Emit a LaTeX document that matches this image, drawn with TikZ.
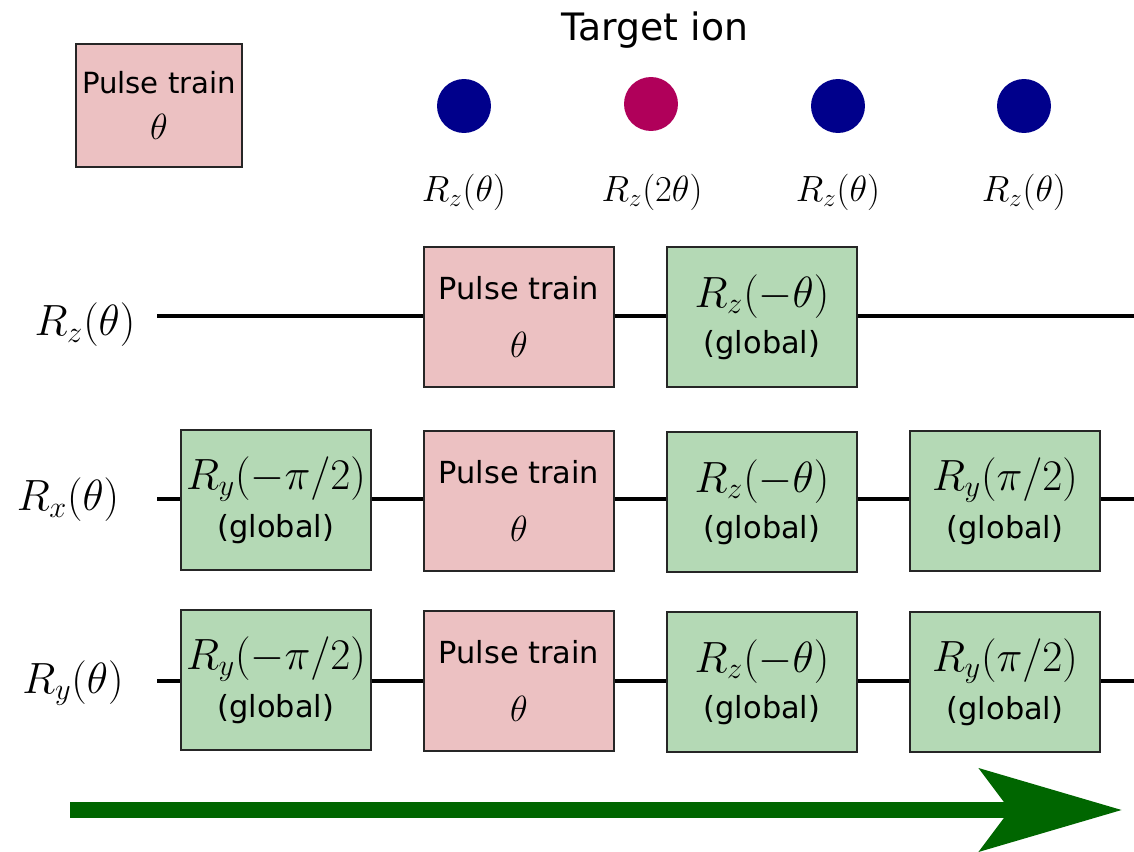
\documentclass[tikz,border=0pt]{standalone}
\usepackage{fontspec}
\setsansfont{DejaVu Sans}
\usepackage{tikz}
\usetikzlibrary{positioning, arrows.meta, calc}
\tikzset{every picture/.append style={thick}}
\definecolor{pulsepink}{HTML}{ECC1C2}
\definecolor{globalgreen}{HTML}{B4D9B5}
\definecolor{iondark}{HTML}{00008B}
\definecolor{iontarget}{HTML}{B0005A}
\definecolor{timegreen}{HTML}{006600}
\tikzset{
  gatebox/.style={draw=black!85, line width=1.1pt, minimum width=3.8cm, minimum height=2.8cm, inner sep=0pt, align=center, font=\sffamily\fontsize{17.3}{20}\selectfont},
  pulsebox/.style={gatebox, fill=pulsepink},
  globalbox/.style={gatebox, fill=globalgreen},
  wire/.style={line width=2.8pt},
  ion/.style={circle, minimum size=1.08cm, inner sep=0pt},
  rowlabel/.style={font=\fontsize{23}{23}\selectfont},
  ionlabel/.style={font=\fontsize{20}{20}\selectfont},
}
\newcommand{\pulsetext}{Pulse train\\[13pt]{\fontsize{20}{20}\selectfont$\theta$}}
\newcommand{\globaltext}[1]{{\fontsize{23}{23}\selectfont$#1$}\\[6pt](global)}

\begin{document}
\begin{tikzpicture}[x=0.02cm, y=-0.02cm]
    \useasboundingbox (0,0) rectangle (1134,852);

    % Legend
    \node[draw=black!85, line width=1.1pt, fill=pulsepink, minimum width=3.32cm, minimum height=2.46cm, inner sep=0pt, align=center, font=\sffamily\fontsize{16.6}{20}\selectfont] (legend) at (159,105.5) {Pulse train\\[6pt]{\fontsize{20}{20}\selectfont$\theta$}};

    % Ions
    \node[font=\sffamily\fontsize{21.5}{24}\selectfont] (target) at (655,30) {Target ion};
    \node[ion, fill=iondark] (ion1) at (464,106) {};
    \node[ion, fill=iontarget] (ion2) at (651,104) {};
    \node[ion, fill=iondark] (ion3) at (838,106) {};
    \node[ion, fill=iondark] (ion4) at (1024,106) {};
    \node[ionlabel] (lab1) at (464,192) {$R_z(\theta)$};
    \node[ionlabel] (lab2) at (652,192) {$R_z(2\theta)$};
    \node[ionlabel] (lab3) at (838,192) {$R_z(\theta)$};
    \node[ionlabel] (lab4) at (1024,192) {$R_z(\theta)$};

    % Row Rz
    \node[rowlabel] (rz) at (85,325) {$R_z(\theta)$};
    \coordinate (zin) at (157,316);
    \coordinate (zout) at (1134,316);
    \node[pulsebox] (zpulse) at (519,317) {\pulsetext};
    \node[globalbox] (zglob) at (762,317) {\globaltext{R_z(-\theta)}};
    \draw[wire] (zin) -- (zin -| zpulse.west);
    \draw[wire] (zpulse.east |- zin) -- (zin -| zglob.west);
    \draw[wire] (zglob.east |- zin) -- (zout);

    % Row Rx
    \node[rowlabel] (rx) at (68,500) {$R_x(\theta)$};
    \coordinate (xin) at (157,499);
    \coordinate (xout) at (1134,499);
    \node[globalbox] (xpre) at (276,500) {\globaltext{R_y(-\pi/2)}};
    \node[pulsebox] (xpulse) at (519,501) {\pulsetext};
    \node[globalbox] (xglob) at (762,502) {\globaltext{R_z(-\theta)}};
    \node[globalbox] (xpost) at (1005,501) {\globaltext{R_y(\pi/2)}};
    \draw[wire] (xin) -- (xin -| xpre.west);
    \draw[wire] (xpre.east |- xin) -- (xin -| xpulse.west);
    \draw[wire] (xpulse.east |- xin) -- (xin -| xglob.west);
    \draw[wire] (xglob.east |- xin) -- (xin -| xpost.west);
    \draw[wire] (xpost.east |- xin) -- (xout);

    % Row Ry
    \node[rowlabel] (ry) at (73,683) {$R_y(\theta)$};
    \coordinate (yin) at (157,681);
    \coordinate (yout) at (1134,681);
    \node[globalbox] (ypre) at (276,680) {\globaltext{R_y(-\pi/2)}};
    \node[pulsebox] (ypulse) at (519,681) {\pulsetext};
    \node[globalbox] (yglob) at (762,682) {\globaltext{R_z(-\theta)}};
    \node[globalbox] (ypost) at (1005,682) {\globaltext{R_y(\pi/2)}};
    \draw[wire] (yin) -- (yin -| ypre.west);
    \draw[wire] (ypre.east |- yin) -- (yin -| ypulse.west);
    \draw[wire] (ypulse.east |- yin) -- (yin -| yglob.west);
    \draw[wire] (yglob.east |- yin) -- (yin -| ypost.west);
    \draw[wire] (ypost.east |- yin) -- (yout);

    % Time arrow
    \coordinate (tstart) at (70,810);
    \coordinate (tend) at (1122,810);
    \draw[timegreen, line width=0.32cm, -{Stealth[length=2.84cm, width=1.64cm, inset=0.6cm]}] (tstart) -- (tend);
\end{tikzpicture}
\end{document}
